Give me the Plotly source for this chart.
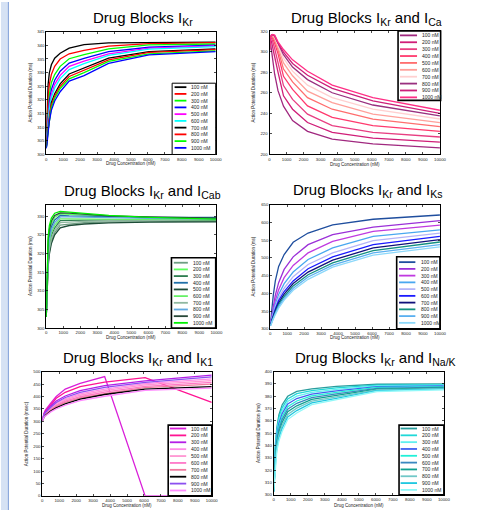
import plotly.graph_objects as go

W, H = 486, 513
FONT = "Liberation Sans, Arial, sans-serif"

# ---------------- data ----------------
CONC_NM = [0, 41, 111, 183, 302, 498, 821, 1353, 2231, 3679, 6065, 10000]
DOSE_LABELS = ["100 nM", "200 nM", "300 nM", "400 nM", "500 nM",
               "600 nM", "700 nM", "800 nM", "900 nM", "1000 nM"]
X_TICKS = [0, 1000, 2000, 3000, 4000, 5000, 6000, 7000, 8000, 9000, 10000]

IKR_APD = [
    [305, 314, 325.7, 329.9, 332.9, 335.3, 337.1, 339.0, 340.3, 340.9, 341.1, 341.2],
    [304.5, 311, 320.8, 325.7, 329.3, 332.3, 335.0, 336.9, 338.2, 339.7, 340.6, 341.0],
    [304, 309, 317.2, 322.0, 326.3, 329.3, 332.3, 335.1, 336.6, 338.7, 340.2, 340.5],
    [303.5, 307.5, 314.8, 319.6, 323.8, 327.2, 330.5, 333.5, 335.2, 337.7, 339.3, 340.1],
    [303.3, 306.5, 313.3, 317.8, 322.0, 325.7, 329.0, 332.3, 334.2, 336.9, 339.0, 339.8],
    [303, 306, 312.1, 316.6, 320.8, 324.4, 327.8, 331.1, 333.3, 336.3, 338.6, 339.5],
    [302.8, 305, 310.5, 314.8, 319.0, 322.3, 325.9, 329.5, 331.8, 335.3, 337.7, 338.7],
    [302.6, 304.5, 309.7, 313.8, 318.2, 321.4, 325.0, 328.6, 330.9, 334.7, 337.4, 338.4],
    [302.4, 304, 309.0, 313.0, 317.2, 320.6, 324.2, 327.7, 330.0, 334.1, 336.9, 338.0],
    [302.2, 303.5, 308.1, 312.1, 316.2, 319.6, 323.0, 326.9, 328.9, 333.4, 336.5, 337.7],
]
IKR_COLORS = ["#000000", "#ff0000", "#00ff00", "#0000ff", "#ff00ff",
              "#00ffff", "#000000", "#ff0000", "#00ff00", "#0000ff"]

ICA_APD = [
    [302, 310, 302, 291, 278, 262, 247, 233, 222.5, 215, 210.3, 206.5],
    [302, 312, 310, 305, 295, 280, 257, 244, 231.1, 221.5, 216, 212],
    [302, 312.5, 313, 310, 303, 290, 267, 253.6, 239.2, 228, 221.5, 217],
    [302, 313, 314.5, 313, 308, 298, 276, 263.2, 247.2, 236, 228, 222.5],
    [302, 313, 315, 314.5, 311, 302, 283, 270.5, 255.2, 244, 234.3, 227],
    [302, 313, 315.5, 315.5, 313, 304.5, 289, 276.5, 261.6, 250.4, 239.2, 231],
    [302, 313, 315.7, 316, 314, 306, 293.5, 281, 267.4, 255.2, 244, 234.5],
    [302, 313, 316, 316.3, 315, 307.5, 297, 285, 272.8, 260, 248.1, 237.5],
    [302, 313, 316, 316.5, 315.5, 308.5, 299.5, 288.5, 277, 264.2, 252, 240],
    [302, 313, 316, 316.7, 316, 309.5, 302, 292, 280.9, 267.4, 255.2, 243],
]
ICA_COLORS = ["#a0287f", "#d01e78", "#e83e82", "#ff3a6e", "#ff6e6e",
              "#ffa09a", "#ffd0d0", "#99307f", "#cc1f7a", "#ff2f86"]

ICAB_APD = [
    [303, 311.2, 317.2, 320.5, 323.3, 325.6, 327.6, 327.9, 328.3, 328.5, 328.6, 328.7],
    [303, 314.6, 322.4, 325.5, 328.0, 329.7, 330.6, 330.5, 330.3, 329.9, 329.5, 329.0],
    [303, 312.2, 318.7, 322.0, 324.8, 326.9, 328.8, 328.9, 329.0, 329.0, 328.9, 328.8],
    [303, 314.0, 321.4, 324.6, 327.2, 329.0, 330.2, 330.1, 330.0, 329.8, 329.7, 329.7],
    [303, 310.7, 316.5, 319.8, 322.7, 325.0, 326.9, 327.5, 327.9, 328.2, 328.4, 328.5],
    [303, 312.8, 319.6, 322.8, 325.6, 327.6, 329.3, 329.3, 329.3, 329.2, 329.1, 329.0],
    [303, 311.7, 317.9, 321.2, 324.0, 326.2, 328.3, 328.4, 328.6, 328.7, 328.9, 329.1],
    [303, 313.4, 320.5, 323.7, 326.4, 328.3, 329.8, 329.8, 329.7, 329.5, 329.4, 329.3],
    [303, 315.3, 323.4, 326.5, 328.7, 330.2, 330.9, 330.8, 330.5, 330.1, 329.8, 329.5],
    [303, 316, 324.5, 327.5, 329.5, 330.8, 331.3, 331.1, 330.7, 330.2, 329.7, 329.2],
]
ICAB_COLORS = ["#6e9e82", "#5cff5c", "#2e7d50", "#2070a8", "#1e4d38",
               "#66f066", "#90b8a0", "#60a8e0", "#284838", "#00f000"]

IKS_APD = [
    [310, 330, 362, 395, 435, 476, 509.4, 543.9, 570, 593.2, 609, 621],
    [310, 322, 345, 365, 395, 430, 467.5, 502.9, 537.3, 565.3, 586.7, 605.3],
    [310, 319, 338, 355, 380, 410, 444.2, 478.7, 514, 546.6, 574.6, 592.3],
    [310, 317, 334, 348, 370, 397, 427.5, 460, 495.4, 528, 560.6, 579.2],
    [310, 315, 330, 343, 362, 387, 414.4, 447, 481.5, 514, 548.5, 570],
    [310, 314, 327, 339, 356, 380, 405.1, 435, 469.4, 502.9, 537.3, 560.6],
    [310, 313, 325, 336, 351, 373, 397.7, 427.5, 460, 493.6, 528, 551.3],
    [310, 312, 323, 333, 347, 368, 391.2, 421, 452.6, 486.1, 520.6, 544.8],
    [310, 311, 321, 330, 343, 363, 385.6, 414.4, 446.1, 479.6, 514, 537.3],
    [310, 310, 319, 328, 340, 358, 380.9, 408.8, 439.6, 474, 507.5, 530.8],
]
IKS_COLORS = ["#1f4e9e", "#9b30d8", "#c03ae0", "#4aa8f0", "#b4b4f8",
              "#1a1aff", "#10107a", "#149080", "#5ab0f0", "#8cd8fa"]

IK1_APD = [
    [305, 320, 335, 345, 357, 373, 400, 430, 453, 480, 0, 0],
    [305, 318, 331, 340, 350, 362, 393, 417, 440, 458, 476, 376],
    [305, 318, 330, 338, 349, 362, 382, 402, 424, 444, 463, 486],
    [303, 315, 325, 332, 342, 355, 372, 391, 411, 430, 452, 471],
    [303, 314, 323, 330, 339, 351, 367, 386, 405, 424, 447, 464],
    [302, 313, 321, 328, 336, 347, 363, 381, 399, 418, 441, 457],
    [302, 312, 320, 326, 334, 344, 359, 376, 394, 412, 436, 450],
    [301, 311, 318, 324, 331, 341, 354, 370, 389, 408, 430, 440],
    [304, 316, 327, 335, 345, 357, 376, 396, 417, 437, 457, 479],
    [301, 310, 317, 322, 329, 338, 350, 365, 383, 401, 425, 434],
]
IK1_COLORS = ["#d91ed9", "#ff1493", "#b41ee6", "#ff8ce6", "#ff96d2",
              "#ff78c8", "#f07aa0", "#000000", "#8c50f0", "#ff8cff"]

INAK_APD = [
    [303, 330, 343.7, 354.4, 365.0, 373.2, 380.0, 384.0, 386.0, 388.0, 389.8, 390.0],
    [303, 328, 341.6, 352.3, 362.6, 370.8, 377.9, 382.1, 384.6, 386.8, 389.1, 389.5],
    [303, 326, 339.5, 350.2, 360.3, 368.4, 375.8, 380.1, 383.2, 385.6, 388.5, 389.0],
    [303, 324, 337.5, 348.2, 357.9, 366.0, 373.7, 378.2, 381.7, 384.4, 387.8, 388.4],
    [303, 322, 335.4, 346.1, 355.5, 363.6, 371.6, 376.2, 380.3, 383.2, 387.2, 387.9],
    [303, 320, 333.3, 344.0, 353.2, 361.3, 369.5, 374.3, 378.9, 382.0, 386.5, 387.4],
    [303, 318, 331.2, 341.9, 350.8, 358.9, 367.4, 372.3, 377.5, 380.8, 385.9, 386.9],
    [303, 316, 329.1, 339.9, 348.4, 356.5, 365.3, 370.4, 376.0, 379.6, 385.2, 386.3],
    [303, 314, 327.1, 337.8, 346.1, 354.1, 363.2, 368.4, 374.6, 378.4, 384.6, 385.8],
    [303, 312, 325.0, 335.7, 343.7, 351.7, 361.1, 366.5, 373.2, 377.2, 383.9, 385.3],
]
INAK_COLORS = ["#2a9d9d", "#20d8d8", "#60f0f0", "#4060f0", "#20f0d8",
               "#3a88c0", "#10a090", "#70c8c8", "#20c8e0", "#90f8f8"]

# ---------------- layout description (pixels) ----------------
PANELS = [
    dict(title="Drug Blocks I<sub>Kr</sub>", rows=IKR_APD, colors=IKR_COLORS,
         yr=[300, 345], dt=5, ylab="Action Potential Duration (ms)",
         box=(46, 218.3, 30, 154), tpos=(144, 17), ylx=30, xly=163.5,
         leg=(174, 218.3, 82, 154), legl=(176.5, 188.5, 191.5), legy=(86, 147.3), legw=1),
    dict(title="Drug Blocks I<sub>Kr</sub> and I<sub>Ca</sub>", rows=ICA_APD, colors=ICA_COLORS,
         yr=[200, 320], dt=20, ylab="Action Potential Duration (ms)",
         box=(273, 446.3, 29.3, 154), tpos=(372, 17), ylx=257, xly=164,
         leg=(403.7, 447, 29.3, 99.3), legl=(405.7, 423, 425.7), legy=(33.7, 96.3), legw=1.6),
    dict(title="Drug Blocks I<sub>Kr</sub> and I<sub>Cab</sub>", rows=ICAB_APD, colors=ICAB_COLORS,
         yr=[300, 333], dt=5, ylab="Action Potential Duration (ms)",
         box=(46, 219, 205, 329.3), tpos=(144, 191), ylx=30, xly=339,
         leg=(173.3, 218.3, 258.3, 329.3), legl=(175.7, 190, 192.7), legy=(263.3, 324), legw=1.6),
    dict(title="Drug Blocks I<sub>Kr</sub> and I<sub>Ks</sub>", rows=IKS_APD, colors=IKS_COLORS,
         yr=[300, 650], dt=50, ylab="Action Potential Duration (ms)",
         box=(273.7, 446.3, 204.7, 330), tpos=(373, 190), ylx=257, xly=339,
         leg=(402.3, 446.3, 257.3, 330), legl=(404.7, 421.3, 424.7), legy=(262.7, 324), legw=1.6),
    dict(title="Drug Blocks I<sub>Kr</sub> and I<sub>K1</sub>", rows=IK1_APD, colors=IK1_COLORS,
         yr=[0, 500], dt=50, ylab="Action Potential Duration (msec)",
         box=(42, 214.3, 373.3, 498.7), tpos=(139, 360), ylx=26, xly=508,
         leg=(170, 214.3, 427.3, 498.7), legl=(171.7, 188.3, 191), legy=(430.7, 493.3), legw=1.6),
    dict(title="Drug Blocks I<sub>Kr</sub> and I<sub>Na/K</sub>", rows=INAK_APD, colors=INAK_COLORS,
         yr=[300, 400], dt=10, ylab="Action Potential Duration (ms)",
         box=(277.3, 450.3, 373.3, 497.7), tpos=(381, 360), ylx=262, xly=508,
         leg=(404.7, 450.3, 427.3, 497.7), legl=(406.3, 423, 425.7), legy=(430.7, 492.7), legw=1.6),
]

def px(x):
    return x / W

def py(y):
    return 1 - y / H

fig = go.Figure()
shapes = []
annotations = []

# left screenshot strip
shapes.append(dict(type="rect", xref="paper", yref="paper", x0=0, x1=px(7.5), y0=0, y1=1,
                   fillcolor="#d6e2f4", line=dict(width=0), layer="below"))
shapes.append(dict(type="line", xref="paper", yref="paper", x0=px(7.5), x1=px(7.5), y0=0, y1=1,
                   line=dict(color="#7f9fd8", width=1)))

for k, p in enumerate(PANELS):
    sfx = "" if k == 0 else str(k + 1)
    x0, x1, y0, y1 = p["box"]
    axis_common = dict(showline=True, linecolor="black", linewidth=1, mirror="ticks",
                       ticks="inside", ticklen=2, tickwidth=0.7, tickcolor="black",
                       showgrid=False, zeroline=False,
                       tickfont=dict(family=FONT, size=4.3, color="#222"))
    fig.update_layout({
        f"xaxis{sfx}": dict(domain=[px(x0), px(x1)], anchor=f"y{sfx}", range=[0, 10000],
                            tickvals=X_TICKS, ticktext=[str(t) for t in X_TICKS], **axis_common),
        f"yaxis{sfx}": dict(domain=[py(y1), py(y0)], anchor=f"x{sfx}", range=p["yr"],
                            dtick=p["dt"], tick0=p["yr"][0], **axis_common),
    })
    for vals, col in zip(p["rows"], p["colors"]):
        fig.add_trace(go.Scatter(x=CONC_NM, y=vals, mode="lines",
                                 line=dict(color=col, width=1.3),
                                 xaxis=f"x{sfx}", yaxis=f"y{sfx}",
                                 showlegend=False, hoverinfo="skip"))
    # title
    annotations.append(dict(text=p["title"], x=px(p["tpos"][0]), y=py(p["tpos"][1]),
                            xref="paper", yref="paper", showarrow=False,
                            xanchor="center", yanchor="middle",
                            font=dict(family=FONT, size=15, color="black")))
    # axis titles
    annotations.append(dict(text="Drug Concentration (nM)", x=px((x0 + x1) / 2), y=py(p["xly"]),
                            xref="paper", yref="paper", showarrow=False,
                            xanchor="center", yanchor="middle",
                            font=dict(family=FONT, size=4.5, color="#222")))
    annotations.append(dict(text=p["ylab"], x=px(p["ylx"]), y=py((y0 + y1) / 2),
                            xref="paper", yref="paper", showarrow=False, textangle=-90,
                            xanchor="center", yanchor="middle",
                            font=dict(family=FONT, size=4.5, color="#222")))
    # legend box
    lx0, lx1, ly0, ly1 = p["leg"]
    shapes.append(dict(type="rect", xref="paper", yref="paper",
                       x0=px(lx0), x1=px(lx1), y0=py(ly1), y1=py(ly0),
                       fillcolor="white", line=dict(color="black", width=p["legw"])))
    la, lb, lt = p["legl"]
    iy0, iy1 = p["legy"]
    n = len(DOSE_LABELS)
    for i, (lab, col) in enumerate(zip(DOSE_LABELS, p["colors"])):
        yy = iy0 + (iy1 - iy0) * i / (n - 1)
        shapes.append(dict(type="line", xref="paper", yref="paper",
                           x0=px(la), x1=px(lb), y0=py(yy), y1=py(yy),
                           line=dict(color=col, width=1.8)))
        annotations.append(dict(text=lab, x=px(lt), y=py(yy), xref="paper", yref="paper",
                                showarrow=False, xanchor="left", yanchor="middle",
                                font=dict(family=FONT, size=5, color="#222")))

fig.update_layout(width=W, height=H, margin=dict(l=0, r=0, t=0, b=0),
                  paper_bgcolor="white", plot_bgcolor="white",
                  shapes=shapes, annotations=annotations, showlegend=False,
                  hovermode=False)

fig.write_html("out.html", config={"displayModeBar": False, "staticPlot": True},
               post_script="document.body.style.margin='0px';document.body.style.overflow='hidden';")
